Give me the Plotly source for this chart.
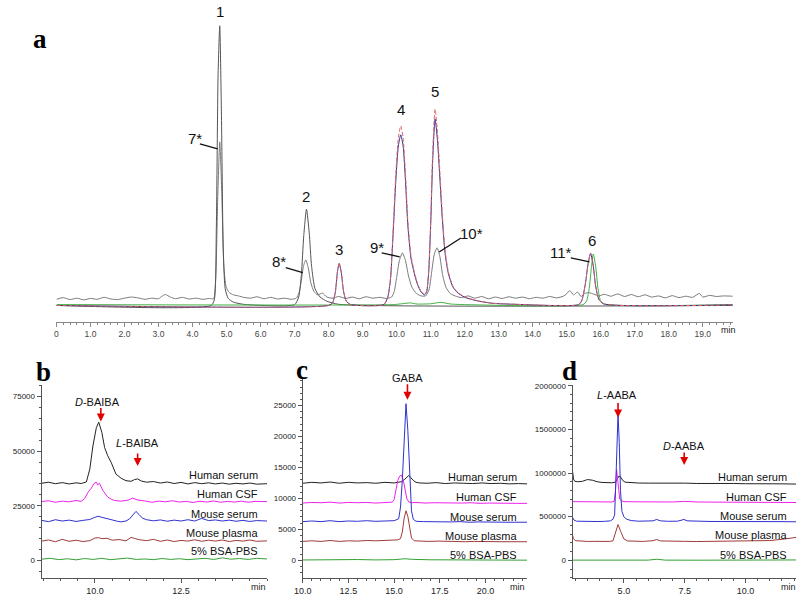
import plotly.graph_objects as go

W, H = 798, 596

# ---------------- Panel a data (relative intensity, time in min) ----------------
a_std_t = [0, 4.55, 4.64, 4.70, 4.75, 4.80, 4.85, 4.90, 4.96, 5.05, 5.2, 5.5, 7.0, 7.12, 7.2, 7.27, 7.35, 7.43, 7.5, 7.6, 7.75, 7.95, 8.3, 19.88]
a_std_v = [0, 0, 2, 28, 82, 100, 68, 22, 6, 2.5, 1.2, 0.4, 0.3, 3, 11, 25, 34.4, 26, 14, 6, 3, 1.5, 0.4, 0]

a_smp_t = [0, 0.2, 0.4, 0.6, 0.8, 1.0, 1.2, 1.4, 1.6, 1.8, 2.0, 2.2, 2.4, 2.6, 2.8, 3.0, 3.1, 3.2, 3.35, 3.5, 3.7, 3.9, 4.1, 4.3, 4.5, 4.62,
           4.68, 4.74, 4.80, 4.86, 4.92, 4.99, 5.08, 5.2, 5.35, 5.5, 5.7, 5.9, 6.1, 6.3, 6.5, 6.7, 6.9, 7.05,
           7.13, 7.2, 7.26, 7.33, 7.4, 7.48, 7.57, 7.68, 7.82, 7.95, 8.1, 8.3, 8.5, 8.7, 8.9, 9.1, 9.3, 9.5, 9.7, 9.85,
           9.93, 10.0, 10.08, 10.17, 10.26, 10.35, 10.45, 10.58, 10.72, 10.85, 10.95, 11.03, 11.11, 11.19, 11.27, 11.35, 11.45, 11.58, 11.72,
           11.9, 12.1, 12.3, 12.5, 12.7, 12.9, 13.1, 13.3, 13.5, 13.7, 13.9, 14.1, 14.3, 14.5, 14.7, 14.9, 15.0, 15.09, 15.2, 15.32, 15.42,
           15.52, 15.65, 15.8, 15.95, 16.1, 16.3, 16.5, 16.7, 16.9, 17.1, 17.3, 17.5, 17.7, 17.9, 18.1, 18.3, 18.5, 18.7, 18.9, 19.0,
           19.2, 19.4, 19.6, 19.88]
a_smp_v = [2.2, 2.8, 2.1, 2.6, 2.0, 2.5, 2.2, 2.9, 2.3, 2.1, 2.6, 3.0, 2.7, 2.2, 2.6, 2.4, 3.3, 3.9, 3.0, 2.4, 2.9, 2.3, 2.6, 2.2, 2.5, 2.4,
           9, 38, 58.5, 40, 14, 6.5, 4.6, 3.8, 3.4, 2.9, 2.6, 3.1, 2.4, 2.9, 2.3, 2.6, 2.2, 2.6,
           4.5, 9, 14, 16.3, 13.5, 8, 5, 3.8, 4.4, 3.0, 2.6, 3.2, 2.5, 3.0, 2.4, 3.1, 2.6, 2.9, 2.5, 3.0,
           5, 10, 16, 18.8, 16, 10.5, 6.5, 4.3, 3.4, 3.4, 5.5, 12, 18.5, 20.6, 17.5, 11, 6.5, 4.2, 3.4,
           2.8, 3.4, 2.6, 3.2, 2.4, 3.0, 2.5, 3.1, 2.6, 3.0, 2.4, 2.9, 2.6, 3.2, 2.7, 3.3, 4.2, 5.3, 3.8, 4.8, 3.2,
           4.2, 4.6, 4.0, 3.4, 4.0, 3.3, 4.1, 3.2, 3.9, 3.1, 3.8, 3.0, 3.4, 2.7, 3.5, 2.8, 3.3, 2.9, 4.3, 3.0,
           3.6, 3.2, 3.4, 3.3]

a_col_t = [0, 8.0, 8.12, 8.2, 8.26, 8.31, 8.37, 8.44, 8.52, 8.65, 9.62, 9.74, 9.82, 9.90, 9.98, 10.05, 10.12, 10.19, 10.26, 10.33,
           10.42, 10.52, 10.61, 10.72, 10.82, 10.88, 10.94, 11.0, 11.06, 11.13, 11.20, 11.27, 11.34, 11.42, 11.52, 11.65, 11.77,
           12.0, 12.35, 12.8, 13.5, 15.35, 15.45, 15.55, 15.63, 15.70, 15.77, 15.85, 15.95, 16.1, 19.88]
a_red_v = [0, 0, 1, 5, 12, 15.2, 12, 5, 1.5, 0.3, 0.3, 3, 10, 28, 48, 60, 64.2, 60, 47, 30,
           18, 12, 8, 5, 4, 5, 12, 30, 55, 70.2, 62, 48, 33, 20, 12, 7, 5,
           3, 1.8, 0.8, 0.4, 0.3, 2, 8, 15, 18.8, 15, 7, 2, 0.5, 0.2]
a_blue_v = [0, 0, 1, 5, 12, 15, 12, 5, 1.5, 0.3, 0.3, 3, 9.5, 26.5, 45.5, 57, 61, 57, 44.5, 28.5,
            17, 11.4, 7.6, 4.8, 3.8, 4.8, 11.4, 28.5, 52, 66.7, 59, 45.6, 31.4, 19, 11.4, 6.7, 4.8,
            2.9, 1.7, 0.8, 0.4, 0.3, 2, 8, 15, 18.6, 15, 7, 2, 0.5, 0.2]

a_grn_t = [0, 9.9, 10.15, 10.4, 10.6, 11.0, 11.3, 11.6, 12.0, 15.48, 15.58, 15.66, 15.72, 15.78, 15.85, 15.92, 16.0, 16.12, 19.88]
a_grn_v = [0.3, 0.3, 0.6, 0.9, 0.5, 0.6, 1.1, 0.5, 0.3, 0.3, 1.5, 6, 13, 18.4, 14, 6, 1.5, 0.4, 0.3]

a_tickvals = list(range(0, 20))
a_ticktext = ["0"] + ["%d.0" % i for i in range(1, 20)]

# ---------------- Panel b (BAIBA) ----------------
b_hs_t = [8.45, 8.65, 8.85, 9.05, 9.25, 9.45, 9.6, 9.75, 9.85, 9.94, 10.04, 10.11, 10.20, 10.28, 10.37, 10.47, 10.61, 10.76, 10.90,
          11.05, 11.15, 11.24, 11.35, 11.5, 11.7, 11.9, 12.1, 12.3, 12.5, 12.7, 12.9, 13.1, 13.3, 13.5, 13.7, 13.9, 14.1, 14.3, 14.5, 14.7, 15.0]
b_hs_v = [35300, 35800, 35100, 35600, 35000, 35500, 35200, 35900, 41800, 52400, 60800, 63300, 58600, 51700, 47900, 44900, 39500, 37600, 36500,
          36200, 37000, 37300, 36300, 35800, 36100, 35400, 35900, 35200, 35700, 35000, 35600, 35100, 35500, 35000, 35400, 34900, 35300, 35000, 35400, 34900, 35100]

b_cs_t = [8.45, 8.65, 8.85, 9.05, 9.25, 9.45, 9.6, 9.7, 9.8, 9.9, 9.97, 10.04, 10.08, 10.13, 10.23, 10.3, 10.37, 10.47, 10.57, 10.75,
          10.95, 11.09, 11.25, 11.45, 11.65, 11.85, 12.05, 12.25, 12.45, 12.65, 12.85, 13.05, 13.25, 13.45, 13.65, 13.85, 14.05, 14.25, 14.45, 14.65, 15.0]
b_cs_v = [26900, 27300, 26600, 27100, 26800, 27400, 27000, 28300, 31200, 33200, 35200, 35800, 34600, 35300, 32000, 30500, 29000, 28000, 27400, 27100,
          27500, 28500, 27600, 27200, 26600, 27100, 26800, 27300, 26700, 27000, 26500, 27100, 26700, 27200, 26600, 27000, 26700, 27100, 26600, 27000, 26900]

b_ms_t = [8.45, 8.65, 8.85, 9.05, 9.25, 9.45, 9.65, 9.85, 9.98, 10.09, 10.2, 10.35, 10.5, 10.65, 10.76, 10.9, 11.0, 11.1, 11.19, 11.28,
          11.38, 11.5, 11.7, 11.9, 12.1, 12.3, 12.5, 12.7, 12.9, 13.1, 13.3, 13.5, 13.7, 13.9, 14.1, 14.3, 14.5, 14.7, 15.0]
b_ms_v = [18300, 17700, 18600, 18000, 18400, 17800, 18300, 18700, 19600, 20200, 19700, 19000, 18500, 17900, 17600, 18000, 18900, 21000, 22400, 21000,
          19300, 18600, 18100, 18500, 17900, 18400, 18000, 18600, 18000, 19200, 18200, 18500, 18000, 18400, 17900, 18300, 17800, 18200, 18000]

b_mp_t = [8.45, 8.65, 8.85, 9.05, 9.25, 9.45, 9.65, 9.85, 10.0, 10.1, 10.2, 10.35, 10.5, 10.7, 10.9, 11.05, 11.15, 11.3, 11.5, 11.7,
          11.9, 12.1, 12.3, 12.5, 12.7, 12.9, 13.1, 13.3, 13.5, 13.7, 13.9, 14.1, 14.3, 14.5, 14.7, 15.0]
b_mp_v = [8800, 9300, 8500, 9600, 8700, 9200, 8600, 9000, 10200, 10400, 9900, 10100, 9200, 9500, 8900, 10500, 10000, 9400, 9000, 9600,
          8700, 9300, 8600, 9100, 8800, 9400, 8700, 9200, 8800, 9300, 8600, 9100, 8800, 9300, 8700, 8900]

b_bsa_t = [8.45, 8.7, 8.95, 9.2, 9.45, 9.7, 9.95, 10.2, 10.45, 10.7, 10.95, 11.2, 11.45, 11.7, 11.95, 12.2, 12.45, 12.7, 12.95, 13.2,
           13.45, 13.7, 13.95, 14.2, 14.45, 14.7, 15.0]
b_bsa_v = [500, 900, 300, 700, 200, 800, 400, 900, 300, 700, 1000, 400, 600, 300, 800, 400, 700, 300, 600, 900,
           400, 1100, 500, 800, 400, 900, 600]

# ---------------- Panel c (GABA) ----------------
c_hs_t = [10.0, 10.5, 11.0, 11.5, 12.0, 12.5, 13.0, 13.5, 14.0, 14.5, 15.0, 15.2, 15.4, 15.55, 15.7, 15.8, 15.9, 16.05, 16.2, 16.4,
          16.8, 17.3, 17.8, 18.3, 18.8, 19.3, 19.8, 20.3, 20.8, 21.3, 21.8, 22.27]
c_hs_v = [12450, 12600, 12500, 12650, 12450, 12600, 12500, 12550, 12450, 12600, 12500, 12550, 12700, 13000, 13500, 13700, 13400, 12900, 12600, 12500,
          12450, 12550, 12400, 12500, 12450, 12400, 12500, 12400, 12450, 12350, 12400, 12350]

c_cs_t = [10.0, 10.5, 11.0, 11.5, 12.0, 12.5, 13.0, 13.5, 14.0, 14.5, 14.9, 15.0, 15.1, 15.2, 15.3, 15.4, 15.5, 15.6, 15.7, 15.8,
          15.95, 16.2, 16.7, 17.2, 17.7, 18.2, 18.7, 19.2, 19.7, 20.2, 20.7, 21.2, 21.7, 22.27]
c_cs_v = [9250, 9350, 9300, 9400, 9250, 9350, 9300, 9350, 9250, 9350, 9400, 9800, 11200, 12900, 13600, 13780, 13000, 11300, 9900, 9450,
          9300, 9350, 9250, 9300, 9250, 9300, 9250, 9300, 9200, 9250, 9200, 9250, 9200, 9200]

c_ms_t = [10.0, 10.5, 11.0, 11.5, 12.0, 12.5, 13.0, 13.5, 14.0, 14.5, 15.0, 15.25, 15.35, 15.45, 15.55, 15.65, 15.75, 15.85, 15.95, 16.05,
          16.2, 16.6, 17.1, 17.6, 18.1, 18.6, 19.1, 19.6, 20.1, 20.6, 21.1, 21.6, 22.27]
c_ms_v = [6250, 6350, 6250, 6400, 6250, 6350, 6300, 6400, 6300, 6350, 6400, 6700, 8600, 13000, 20500, 25300, 21000, 13000, 8000, 6600,
          6300, 6250, 6200, 6250, 6200, 6250, 6150, 6200, 6150, 6200, 6150, 6150, 6150]

c_mp_t = [10.0, 10.5, 11.0, 11.5, 12.0, 12.5, 13.0, 13.5, 14.0, 14.5, 15.0, 15.2, 15.35, 15.45, 15.55, 15.65, 15.75, 15.85, 15.95, 16.1,
          16.4, 16.9, 17.4, 17.9, 18.4, 18.9, 19.4, 19.9, 20.4, 20.9, 21.4, 21.9, 22.27]
c_mp_v = [3050, 3150, 3050, 3200, 3050, 3150, 3100, 3200, 3150, 3200, 3250, 3300, 3500, 4600, 6800, 8000, 7100, 4900, 3600, 3150,
          3100, 3050, 3100, 3050, 3050, 3000, 3050, 3000, 3050, 3000, 3000, 3000, 3000]

c_bsa_t = [10.0, 11.0, 12.0, 13.0, 14.0, 15.0, 15.6, 16.0, 17.0, 18.0, 19.0, 20.0, 21.0, 22.0, 22.27]
c_bsa_v = [50, 100, 50, 120, 60, 100, 250, 150, 80, 60, 40, 30, 20, 20, 20]

# ---------------- Panel d (AABA) ----------------
d_hs_t = [2.89, 2.93, 2.98, 3.1, 3.3, 3.5, 3.7, 3.9, 4.1, 4.3, 4.5, 4.65, 4.72, 4.8, 4.88, 4.95, 5.05, 5.3, 5.6, 6.0,
          6.5, 7.0, 7.5, 8.0, 8.5, 9.0, 9.5, 10.0, 10.5, 11.0, 11.5, 12.08]
d_hs_v = [1020000, 930000, 905000, 900000, 905000, 925000, 918000, 900000, 892000, 890000, 888000, 895000, 930000, 965000, 950000, 915000, 895000, 888000, 885000, 884000,
          886000, 882000, 884000, 880000, 882000, 878000, 880000, 877000, 879000, 875000, 876000, 873000]

d_cs_t = [2.89, 3.5, 4.0, 4.5, 4.6, 4.65, 4.70, 4.76, 4.83, 4.92, 5.0, 5.5, 6.0, 6.5, 7.0, 7.5, 8.0, 9.0, 10.0, 11.0, 12.08]
d_cs_v = [672000, 670000, 668000, 668000, 675000, 780000, 1040000, 900000, 700000, 680000, 672000, 670000, 668000, 672000, 668000, 675000, 668000, 666000, 665000, 663000, 662000]

d_ms_t = [2.89, 2.95, 3.05, 3.3, 3.6, 3.9, 4.2, 4.45, 4.55, 4.62, 4.67, 4.71, 4.76, 4.81, 4.86, 4.92, 5.0, 5.1, 5.3, 5.6,
          6.0, 6.2, 6.35, 6.5, 6.8, 7.2, 7.35, 7.47, 7.6, 8.0, 8.5, 9.0, 9.5, 10.0, 10.5, 11.0, 11.5, 12.08]
d_ms_v = [490000, 460000, 448000, 445000, 447000, 444000, 446000, 452000, 470000, 520000, 900000, 1400000, 1682000, 1350000, 800000, 560000, 500000, 472000, 455000, 448000,
          447000, 452000, 468000, 452000, 447000, 448000, 458000, 468000, 452000, 446000, 445000, 444000, 445000, 443000, 444000, 442000, 443000, 441000]

d_mp_t = [2.89, 2.93, 3.0, 3.2, 3.5, 3.8, 4.1, 4.4, 4.55, 4.65, 4.76, 4.87, 5.0, 5.15, 5.4, 5.8, 6.2, 6.35, 6.5, 7.0,
          7.5, 8.0, 8.5, 9.0, 9.5, 10.0, 10.5, 11.0, 11.5, 12.08]
d_mp_v = [285000, 250000, 225000, 218000, 216000, 217000, 215000, 216000, 222000, 300000, 410000, 330000, 245000, 222000, 218000, 216000, 225000, 238000, 222000, 216000,
          217000, 215000, 216000, 218000, 217000, 219000, 221000, 226000, 240000, 262000]

d_bsa_t = [2.89, 4.0, 5.0, 6.0, 6.35, 6.7, 8.0, 10.0, 12.08]
d_bsa_v = [2000, 1000, 3000, 2000, 12000, 2000, 1000, 2000, 4000]

sample_names = ["Human serum", "Human CSF", "Mouse serum", "Mouse plasma", "5% BSA-PBS"]
sample_colors = ["#222222", "#ee22ee", "#3030d0", "#a03a3a", "#33a033"]

# label heights (data units) for the sample names in b, c, d
b_lab_v = [39090, 30450, 21360, 12730, 4090]
c_lab_v = [13460, 10260, 7050, 3850, 800]
d_lab_v = [954500, 727300, 511400, 284100, 56800]

# ---------------- figure ----------------
fig = go.Figure()

def px_dom_x(a, b):
    return [a / W, b / W]

def px_dom_y(top, bottom):
    return [1 - bottom / H, 1 - top / H]

def add(t, v, xa, ya, color, width=1.0, dash="solid", shape="linear"):
    fig.add_trace(go.Scatter(x=t, y=v, xaxis=xa, yaxis=ya, mode="lines",
                             line=dict(color=color, width=width, dash=dash, shape=shape, smoothing=0.6),
                             hoverinfo="skip", showlegend=False))

# panel a
add(a_smp_t, a_smp_v, "x", "y", "#7a7a7a", 1.0, shape="spline")
add(a_std_t, a_std_v, "x", "y", "#555555", 1.0, shape="spline")
add(a_grn_t, a_grn_v, "x", "y", "#40b040", 1.0, shape="spline")
add(a_col_t, a_blue_v, "x", "y", "#303090", 1.0, shape="spline")
add(a_col_t, a_red_v, "x", "y", "#e06666", 1.0, dash="4px,2px", shape="spline")

# panels b, c, d
for (ts, vs, xa, ya) in [
    ([b_hs_t, b_cs_t, b_ms_t, b_mp_t, b_bsa_t], [b_hs_v, b_cs_v, b_ms_v, b_mp_v, b_bsa_v], "x2", "y2"),
    ([c_hs_t, c_cs_t, c_ms_t, c_mp_t, c_bsa_t], [c_hs_v, c_cs_v, c_ms_v, c_mp_v, c_bsa_v], "x3", "y3"),
    ([d_hs_t, d_cs_t, d_ms_t, d_mp_t, d_bsa_t], [d_hs_v, d_cs_v, d_ms_v, d_mp_v, d_bsa_v], "x4", "y4"),
]:
    for t, v, col in zip(ts, vs, sample_colors):
        add(t, v, xa, ya, col, 1.0)

xfont = dict(family="Liberation Sans, Arial, sans-serif", size=9, color="#222")
yfont = dict(family="Liberation Sans, Arial, sans-serif", size=8, color="#222")
small_axis = dict(showline=True, linecolor="#555", linewidth=1, ticks="outside", ticklen=4, tickcolor="#555",
                  showgrid=False, zeroline=False)

layout = dict(
    width=W, height=H, autosize=False, margin=dict(l=0, r=0, t=0, b=0),
    paper_bgcolor="white", plot_bgcolor="white",
    font=dict(family="Liberation Sans, Arial, sans-serif", color="#111"),
    xaxis=dict(domain=px_dom_x(48, 732), range=[0, 19.88], showline=True, linecolor="#888", linewidth=1,
               ticks="outside", ticklen=4, tickcolor="#888", tickmode="array", tickvals=a_tickvals, ticktext=a_ticktext,
               minor=dict(tickmode="linear", tick0=0, dtick=0.2, ticklen=2, tickcolor="#888", ticks="outside"),
               showgrid=False, zeroline=False, tickfont=dict(family="Liberation Sans, Arial", size=8.5, color="#444"),
               anchor="y"),
    yaxis=dict(domain=px_dom_y(0, 322), range=[-6.03, 108.16], visible=False, anchor="x"),
    xaxis2=dict(domain=px_dom_x(33, 261), range=[8.45, 15.0], tickmode="array", tickvals=[10, 12.5], ticktext=["10.0", "12.5"],
                minor=dict(tickmode="linear", tick0=0, dtick=0.5, ticklen=2, tickcolor="#555", ticks="outside"),
                anchor="y2", tickfont=xfont, **small_axis),
    yaxis2=dict(domain=px_dom_y(385, 580), range=[-8182, 80455], tickmode="array", tickvals=[0, 25000, 50000, 75000],
                ticktext=["0", "25000", "50000", "75000"],
                minor=dict(tickmode="linear", tick0=0, dtick=5000, ticklen=2, tickcolor="#555", ticks="outside"),
                anchor="x2", tickfont=yfont, **small_axis),
    xaxis3=dict(domain=px_dom_x(297, 524), range=[10.0, 22.27], tickmode="array", tickvals=[10, 12.5, 15, 17.5, 20],
                ticktext=["10.0", "12.5", "15.0", "17.5", "20.0"],
                minor=dict(tickmode="linear", tick0=0, dtick=0.5, ticklen=2, tickcolor="#555", ticks="outside"),
                anchor="y3", tickfont=xfont, **small_axis),
    yaxis3=dict(domain=px_dom_y(378, 580), range=[-2885, 29490], tickmode="array", tickvals=[0, 5000, 10000, 15000, 20000, 25000],
                ticktext=["0", "5000", "10000", "15000", "20000", "25000"],
                minor=dict(tickmode="linear", tick0=0, dtick=1000, ticklen=2, tickcolor="#555", ticks="outside"),
                anchor="x3", tickfont=yfont, **small_axis),
    xaxis4=dict(domain=px_dom_x(570, 796), range=[2.89, 12.08], tickmode="array", tickvals=[5, 7.5, 10],
                ticktext=["5.0", "7.5", "10.0"],
                minor=dict(tickmode="linear", tick0=0, dtick=0.5, ticklen=2, tickcolor="#555", ticks="outside"),
                anchor="y4", tickfont=xfont, **small_axis),
    yaxis4=dict(domain=px_dom_y(385, 580), range=[-204500, 2011000], tickmode="array",
                tickvals=[0, 500000, 1000000, 1500000, 2000000],
                ticktext=["0", "500000", "1000000", "1500000", "2000000"],
                minor=dict(tickmode="linear", tick0=0, dtick=100000, ticklen=2, tickcolor="#555", ticks="outside"),
                anchor="x4", tickfont=yfont, **small_axis),
)
fig.update_layout(**layout)

ann = []
def text(x, y, s, xref, yref, size=14, xanchor="center", yanchor="middle", family="Liberation Sans, Arial, sans-serif",
         color="#111"):
    ann.append(dict(x=x, y=y, xref=xref, yref=yref, text=s, showarrow=False, xanchor=xanchor, yanchor=yanchor,
                    font=dict(size=size, family=family, color=color)))

# panel letters (paper)
serif = "Liberation Serif, Times New Roman, serif"
for letter, px, py in [("a", 31, 36), ("b", 35, 372), ("c", 296, 370), ("d", 567, 371)]:
    text(px / W, 1 - py / H, "<b>%s</b>" % letter, "paper", "paper", size=27, family=serif, color="#000")

# "min" labels
for px, py in [(728, 330), (252, 589), (514, 589), (788, 589)]:
    text(px / W, 1 - py / H, "min", "paper", "paper", size=9, color="#222")

# peak labels panel a
peak_labels = [("1", 4.80, 105.3), ("2", 7.35, 39.0), ("3", 8.31, 19.9), ("4", 10.12, 70.2), ("5", 11.13, 76.6),
               ("6", 15.73, 23.4), ("7*", 4.07, 59.6), ("8*", 6.54, 15.6), ("9*", 9.42, 20.9), ("10*", 12.21, 25.9),
               ("11*", 14.83, 19.1)]
for s, t, v in peak_labels:
    text(t, v, s, "x", "y", size=15)

leaders = [(4.215, 57.8, 4.738, 56.0), (6.74, 13.5, 7.24, 11.7), (9.56, 18.8, 10.09, 17.4),
           (11.89, 24.1, 11.25, 19.1), (15.12, 17.0, 15.67, 15.6)]
shapes = []
for x0, y0, x1, y1 in leaders:
    shapes.append(dict(type="line", xref="x", yref="y", x0=x0, y0=y0, x1=x1, y1=y1, line=dict(color="#111", width=1.3)))

# sample names
for names_v, xa, ya, xr in [(b_lab_v, "x2", "y2", 14.80), (c_lab_v, "x3", "y3", 21.84), (d_lab_v, "x4", "y4", 11.79)]:
    for name, v in zip(sample_names, names_v):
        text(xr, v, name, xa, ya, size=11, xanchor="right", color="#111")

# compound labels + red arrows
comp = [("<i>D</i>-BAIBA", 10.08, 72700, "x2", "y2", 10.17, 63600, -15),
        ("<i>L</i>-BAIBA", 11.24, 53600, "x2", "y2", 11.24, 43200, -14),
        ("GABA", 15.73, 29490, "x3", "y3", 15.73, 25960, -17),
        ("<i>L</i>-AABA", 4.72, 1898000, "x4", "y4", 4.76, 1636000, -16),
        ("<i>D</i>-AABA", 7.48, 1307000, "x4", "y4", 7.48, 1091000, -14)]
for s, tx, ty, xa, ya, hx, hy, ay in comp:
    text(tx, ty, s, xa, ya, size=11)
    ann.append(dict(x=hx, y=hy, xref=xa, yref=ya, text="", showarrow=True, ax=0, ay=ay, arrowhead=2,
                    arrowsize=1, arrowwidth=1.6, arrowcolor="#e00000", standoff=0, startstandoff=0))

fig.update_layout(annotations=ann, shapes=shapes)
fig.write_html("out.html", config={"displayModeBar": False},
               post_script="document.body.style.margin='0px';document.body.style.padding='0px';"
                           "document.body.style.overflow='hidden';document.documentElement.style.overflow='hidden';")
